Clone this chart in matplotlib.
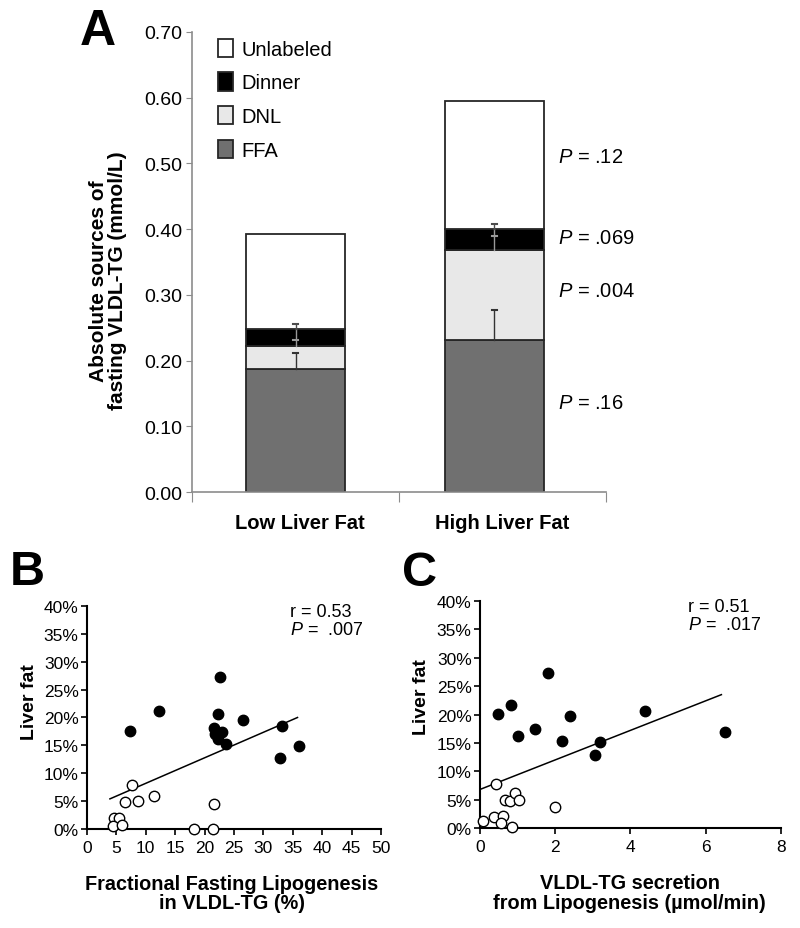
import numpy as np
import matplotlib.pyplot as plt
from matplotlib.ticker import FuncFormatter

plt.rcParams['font.family'] = ['Liberation Sans', 'DejaVu Sans']
plt.rcParams['mathtext.fontset'] = 'custom'
plt.rcParams['mathtext.it'] = 'Liberation Sans:italic'
plt.rcParams['mathtext.rm'] = 'Liberation Sans'

# ---- panel A: absolute sources of fasting VLDL-TG (mmol/L)
groups = ['Low Liver Fat', 'High Liver Fat']
ffa = [0.187, 0.231]
dnl = [0.035, 0.1365]
dinner = [0.026, 0.032]
unlabeled = [0.144, 0.1955]
dnl_err_top = [0.212, 0.277]
dinner_err_lo = [0.232, 0.390]
dinner_err_hi = [0.255, 0.408]
p_values = ['.16', '.004', '.069', '.12']

# ---- panel B: liver fat (%) vs fractional fasting lipogenesis (%)
b_high_x = [7.3, 12.3, 22.7, 22.3, 26.6, 21.6, 22.9, 21.7, 22.3, 23.7, 33.1, 36.1, 32.8]
b_high_y = [17.6, 21.2, 27.2, 20.7, 19.6, 18.2, 17.4, 17.0, 16.2, 15.2, 18.5, 14.9, 12.7]
b_low_x = [7.7, 6.5, 8.6, 11.4, 21.6, 18.2, 21.5, 4.6, 5.5, 4.4, 5.9]
b_low_y = [7.8, 4.8, 5.1, 5.9, 4.5, 0.0, 0.0, 1.9, 1.9, 0.6, 0.7]
b_fit_x = [3.9, 35.8]
b_fit_y = [5.4, 20.0]

# ---- panel C: liver fat (%) vs VLDL-TG secretion from lipogenesis
c_high_x = [0.47, 0.82, 1.82, 1.01, 1.47, 2.39, 2.18, 3.20, 3.06, 4.40, 6.51]
c_high_y = [20.1, 21.6, 27.3, 16.2, 17.5, 19.8, 15.4, 15.1, 12.8, 20.7, 17.0]
c_low_x = [0.42, 0.67, 0.80, 0.92, 1.04, 2.00, 0.36, 0.60, 0.08, 0.57, 0.84]
c_low_y = [7.8, 5.0, 4.8, 6.2, 5.0, 3.7, 2.0, 2.2, 1.2, 0.9, 0.2]
c_fit_x = [0.0, 6.42]
c_fit_y = [6.8, 23.5]

fig = plt.figure(figsize=(8, 9.29), dpi=100)

# ================= A
ax = fig.add_axes([0.24, 0.4693, 0.5175, 0.4952])
xpos = np.array([0.5, 1.46])
w = 0.48
ffa = np.array(ffa)
dnl = np.array(dnl)
dinner = np.array(dinner)
unlabeled = np.array(unlabeled)
ec = '0.15'
b1 = ax.bar(xpos, ffa, w, color='#707070', edgecolor=ec, lw=1.3, label='FFA')
b2 = ax.bar(xpos, dnl, w, bottom=ffa, color='#e8e8e8', edgecolor=ec, lw=1.3, label='DNL')
b3 = ax.bar(xpos, dinner, w, bottom=ffa + dnl, color='black', edgecolor=ec, lw=1.3, label='Dinner')
b4 = ax.bar(xpos, unlabeled, w, bottom=ffa + dnl + dinner, color='white', edgecolor=ec, lw=1.3,
            label='Unlabeled')

cw = 0.012
for i in range(2):
    x = xpos[i]
    ax.plot([x, x], [ffa[i], dnl_err_top[i]], color='0.2', lw=1)
    ax.plot([x - cw, x + cw], [dnl_err_top[i]] * 2, color='0.2', lw=1.5)
    top_dinner = ffa[i] + dnl[i] + dinner[i]
    ax.plot([x, x], [ffa[i] + dnl[i], top_dinner], color='0.6', lw=1)
    ax.plot([x, x], [top_dinner, dinner_err_hi[i]], color='0.3', lw=1)
    ax.plot([x - cw, x + cw], [dinner_err_lo[i]] * 2, color='0.6', lw=1.5)
    ax.plot([x - cw, x + cw], [dinner_err_hi[i]] * 2, color='0.3', lw=1.5)

p_y = [0.136, 0.307, 0.387, 0.510]
for py, pv in zip(p_y, p_values):
    ax.text(1.77, py, r'$P$ = ' + pv, fontsize=14.5, va='center', ha='left')

ax.set_xlim(0, 2)
ax.set_ylim(0, 0.70)
ax.set_yticks(np.arange(0, 0.71, 0.1))
ax.yaxis.set_major_formatter(FuncFormatter(lambda v, p: '%.2f' % v))
ax.set_xticks([0, 1, 2])
ax.set_xticklabels([])
ax.set_xticks([0.52, 1.5], minor=True)
ax.set_xticklabels(groups, minor=True, fontsize=14.5, fontweight='bold')
ax.tick_params(axis='x', which='minor', length=0, pad=15)
ax.tick_params(axis='x', which='major', length=7, color='0.55', direction='out')
ax.tick_params(axis='y', labelsize=14, length=4, color='0.55', pad=3)
for s in ['top', 'right']:
    ax.spines[s].set_visible(False)
for s in ['left', 'bottom']:
    ax.spines[s].set_color('0.55')
    ax.spines[s].set_linewidth(1.2)
ax.set_ylabel('Absolute sources of\nfasting VLDL-TG (mmol/L)', fontsize=15,
              fontweight='bold', linespacing=1.0)
ax.yaxis.set_label_coords(-0.157, 0.461)
ax.legend(handles=[b4, b3, b2, b1], loc='upper left', bbox_to_anchor=(0.063, 0.985),
          frameon=False, fontsize=14.5, handlelength=0.75, handleheight=1.0,
          handletextpad=0.4, labelspacing=0.68, borderpad=0, borderaxespad=0)
fig.text(0.122, 0.966, 'A', fontsize=36, fontweight='bold', ha='center', va='center')


def percent_fmt(v, p):
    return '%d%%' % v


def scatter_panel(rect, hx, hy, lx, ly, fx, fy, xmax, xticks, xlabel, rtext, ptext,
                  xlab_x, ylab_y, ann_x):
    a = fig.add_axes(rect)
    a.plot(fx, fy, color='black', lw=1.1, zorder=2)
    a.plot(hx, hy, 'o', ms=7.5, mfc='black', mec='black', mew=1, clip_on=False, zorder=3)
    a.plot(lx, ly, 'o', ms=7.5, mfc='white', mec='black', mew=1, clip_on=False, zorder=3)
    a.set_xlim(0, xmax)
    a.set_ylim(0, 40)
    a.set_xticks(xticks)
    a.set_yticks(np.arange(0, 41, 5))
    a.yaxis.set_major_formatter(FuncFormatter(percent_fmt))
    a.tick_params(labelsize=12.5, length=4, width=1.2, pad=2)
    a.tick_params(axis='x', pad=4)
    for s in ['top', 'right']:
        a.spines[s].set_visible(False)
    for s in ['left', 'bottom']:
        a.spines[s].set_linewidth(1.5)
    a.set_ylabel('Liver fat', fontsize=14, fontweight='bold')
    a.yaxis.set_label_coords(-0.165, ylab_y)
    a.set_xlabel(xlabel, fontsize=14.3, fontweight='bold', linespacing=1.05)
    a.xaxis.set_label_coords(xlab_x, -0.2)
    a.xaxis.label.set_va('top')
    a.text(ann_x, 0.975, rtext, transform=a.transAxes, fontsize=13, va='center')
    a.text(ann_x, 0.895, ptext, transform=a.transAxes, fontsize=13, va='center')
    return a


scatter_panel([0.10875, 0.1066, 0.3675, 0.240], b_high_x, b_high_y, b_low_x, b_low_y,
              b_fit_x, b_fit_y, 50, np.arange(0, 51, 5),
              'Fractional Fasting Lipogenesis\nin VLDL-TG (%)',
              'r = 0.53', r'$P$ =  .007', 0.493, 0.574, 0.69)
scatter_panel([0.60, 0.1076, 0.376, 0.2444], c_high_x, c_high_y, c_low_x, c_low_y,
              c_fit_x, c_fit_y, 8, [0, 2, 4, 6, 8],
              'VLDL-TG secretion\nfrom Lipogenesis (\u00b5mol/min)',
              'r = 0.51', r'$P$ =  .017', 0.498, 0.58, 0.691)
fig.text(0.034, 0.384, 'B', fontsize=35, fontweight='bold', ha='center', va='center')
fig.text(0.524, 0.383, 'C', fontsize=35, fontweight='bold', ha='center', va='center')

plt.savefig('out.png', dpi=100)
